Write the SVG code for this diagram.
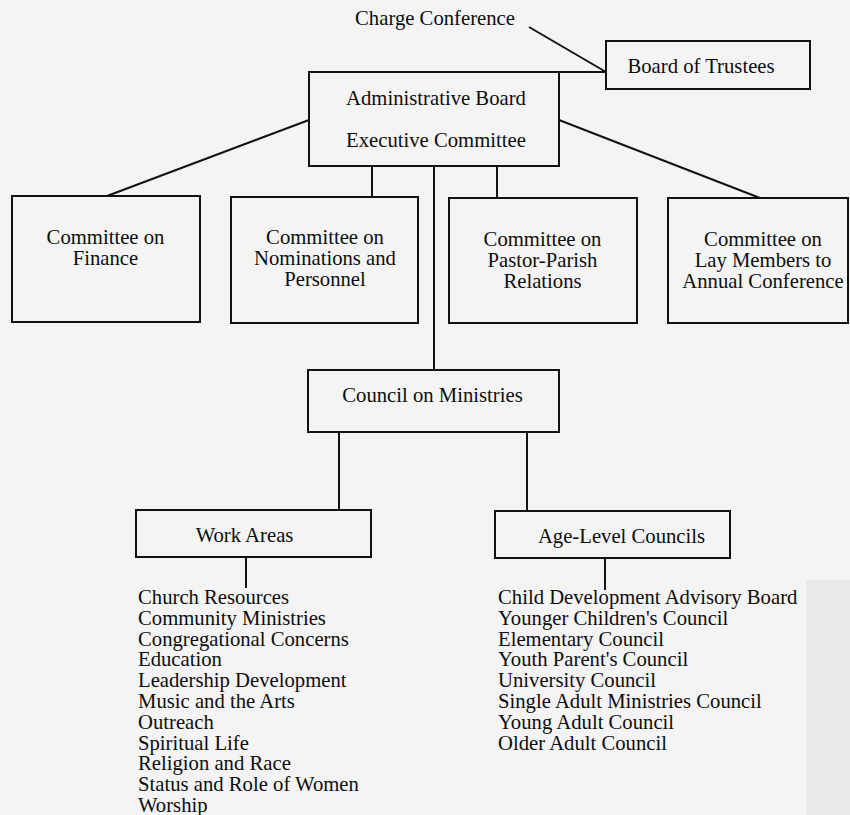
<svg xmlns="http://www.w3.org/2000/svg" width="850" height="815" viewBox="0 0 850 815">
  <style>
    .box { fill: none; stroke: #121212; stroke-width: 2; }
    .conn line { stroke: #121212; stroke-width: 2; }
    text { font-family: "Liberation Serif", "Times New Roman", serif; font-size: 20.7px; fill: #0d0d0d; }
    .c { text-anchor: middle; }
  </style>
  <rect x="0" y="0" width="850" height="815" fill="#f4f4f4"/>
  <rect x="806" y="580" width="44" height="235" fill="#eaeaea"/>

  <g id="connectors" class="conn">
    <line x1="529" y1="27" x2="606" y2="72"/>
    <line x1="559" y1="72" x2="606" y2="72"/>
    <line x1="309" y1="120" x2="107" y2="196"/>
    <line x1="372" y1="166" x2="372" y2="197"/>
    <line x1="434" y1="166" x2="434" y2="370"/>
    <line x1="497" y1="166" x2="497" y2="198"/>
    <line x1="559" y1="120" x2="760" y2="198"/>
    <line x1="339" y1="432" x2="339" y2="510"/>
    <line x1="527" y1="432" x2="527" y2="511"/>
    <line x1="246" y1="557" x2="246" y2="588"/>
    <line x1="605" y1="558" x2="605" y2="590"/>
  </g>

  <g id="charge-conference">
    <text x="435" y="25" class="c">Charge Conference</text>
  </g>

  <g id="board-of-trustees">
    <rect class="box" x="606" y="41" width="204" height="48"/>
    <text x="701" y="73" class="c">Board of Trustees</text>
  </g>

  <g id="administrative-board">
    <rect class="box" x="309" y="72" width="250" height="94"/>
    <text x="436" y="105" class="c">Administrative Board</text>
    <text x="436" y="147" class="c">Executive Committee</text>
  </g>

  <g id="finance">
    <rect class="box" x="12" y="196" width="188" height="126"/>
    <text x="105.5" y="244" class="c">Committee on</text>
    <text x="105.5" y="264.5" class="c">Finance</text>
  </g>

  <g id="nominations">
    <rect class="box" x="231" y="197" width="187" height="126"/>
    <text x="325" y="244" class="c">Committee on</text>
    <text x="325" y="265" class="c">Nominations and</text>
    <text x="325" y="286" class="c">Personnel</text>
  </g>

  <g id="pastor-parish">
    <rect class="box" x="449" y="198" width="188" height="125"/>
    <text x="542.5" y="246" class="c">Committee on</text>
    <text x="542.5" y="267" class="c">Pastor-Parish</text>
    <text x="542.5" y="288" class="c">Relations</text>
  </g>

  <g id="lay-members">
    <rect class="box" x="668" y="198" width="180" height="125"/>
    <text x="763" y="246" class="c">Committee on</text>
    <text x="763" y="267" class="c">Lay Members to</text>
    <text x="763" y="288" class="c">Annual Conference</text>
  </g>

  <g id="council-on-ministries">
    <rect class="box" x="308" y="370" width="251" height="62"/>
    <text x="432.5" y="402" class="c">Council on Ministries</text>
  </g>

  <g id="work-areas">
    <rect class="box" x="136" y="510" width="235" height="47"/>
    <text x="244.5" y="542" class="c">Work Areas</text>
  </g>

  <g id="age-level-councils">
    <rect class="box" x="495" y="511" width="235" height="47"/>
    <text x="621.5" y="543" class="c">Age-Level Councils</text>
  </g>

  <g id="work-areas-list">
    <text x="138" y="604">Church Resources</text>
    <text x="138" y="624.8">Community Ministries</text>
    <text x="138" y="645.6">Congregational Concerns</text>
    <text x="138" y="666.4">Education</text>
    <text x="138" y="687.2">Leadership Development</text>
    <text x="138" y="708">Music and the Arts</text>
    <text x="138" y="728.8">Outreach</text>
    <text x="138" y="749.6">Spiritual Life</text>
    <text x="138" y="770.4">Religion and Race</text>
    <text x="138" y="791.2">Status and Role of Women</text>
    <text x="138" y="812">Worship</text>
  </g>

  <g id="age-level-list">
    <text x="498" y="604">Child Development Advisory Board</text>
    <text x="498" y="624.8">Younger Children's Council</text>
    <text x="498" y="645.6">Elementary Council</text>
    <text x="498" y="666.4">Youth Parent's Council</text>
    <text x="498" y="687.2">University Council</text>
    <text x="498" y="708">Single Adult Ministries Council</text>
    <text x="498" y="728.8">Young Adult Council</text>
    <text x="498" y="749.6">Older Adult Council</text>
  </g>
</svg>
